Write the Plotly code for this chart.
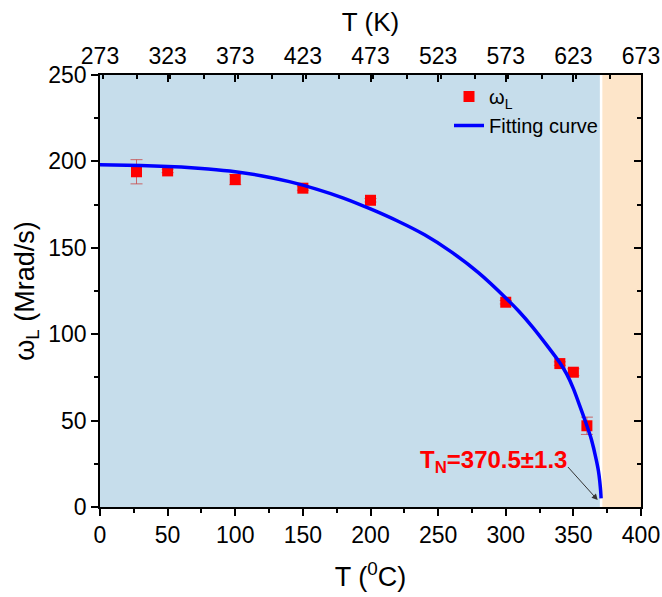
import plotly.graph_objects as go

# Measured data
T_data = [27, 50, 100, 150, 200, 300, 340, 350, 360]
w_data = [194, 194.5, 189.5, 184.5, 177.5, 118.5, 83, 78, 47]
w_err = [7, 1, 3, 1.2, 1, 1, 1, 2, 5]

# Fitting curve
T_fit = [0, 20, 40, 60, 80, 100, 120, 140, 160, 180, 200, 220, 240, 260, 280, 300, 310, 320, 330,
         340, 345, 350, 355, 360, 363, 365, 367, 368.5, 369.5, 370.2, 370.5]
w_fit = [198, 197.8, 197.4, 196.7, 195.6, 194, 191.6, 188.3, 184, 178.8, 172.5, 165.5, 157.5, 147.5,
         135.5, 121, 113, 104, 94, 83.5, 77, 68.5, 58, 47, 40, 34, 27, 21, 15, 9, 5]

TN = 370.5
x_ticks_C = [0, 50, 100, 150, 200, 250, 300, 350, 400]
x_ticks_K = [273, 323, 373, 423, 473, 523, 573, 623, 673]
y_ticks = [0, 50, 100, 150, 200, 250]

FONT = "Liberation Sans, Arial, sans-serif"

fig = go.Figure()

fig.add_trace(go.Scatter(
    x=T_data, y=w_data, mode="markers", name="ω<sub>L</sub>",
    marker=dict(symbol="square", size=11, color="#FF0000"),
    error_y=dict(type="data", array=w_err, color="rgba(200,70,70,0.8)", thickness=1, width=6),
))
fig.add_trace(go.Scatter(
    x=T_fit, y=w_fit, mode="lines", name="Fitting curve",
    line=dict(color="#0000FF", width=3.5, shape="spline", smoothing=0.5),
))
# invisible traces for top and right axes
fig.add_trace(go.Scatter(x=[273, 673], y=[None, None], xaxis="x2", showlegend=False, hoverinfo="skip"))
fig.add_trace(go.Scatter(x=[0, 400], y=[None, None], yaxis="y2", showlegend=False, hoverinfo="skip"))

fig.add_shape(type="rect", xref="x", yref="y", x0=0, x1=TN, y0=0, y1=250,
              fillcolor="#C6DDEB", line_width=0, layer="below")
fig.add_shape(type="rect", xref="x", yref="y", x0=TN, x1=400, y0=0, y1=250,
              fillcolor="#FDE5C9", line_width=0, layer="below")
fig.add_shape(type="line", xref="x", yref="y", x0=TN, x1=TN, y0=0, y1=250,
              line=dict(color="white", width=2.5), layer="below")

fig.add_annotation(x=368, y=4, ax=345, ay=24, xref="x", yref="y", axref="x", ayref="y",
                   showarrow=True, arrowhead=2, arrowsize=1.2, arrowwidth=1, arrowcolor="#333333", text="")
fig.add_annotation(x=(569 - 100) / 541, y=(507 - 461) / 432, xref="paper", yref="paper",
                   xanchor="right", yanchor="middle", showarrow=False,
                   text="<b>T<sub>N</sub>=370.5±1.3</b>",
                   font=dict(family=FONT, size=24, color="#FF0000"))

axis_common = dict(showgrid=False, zeroline=False, showline=True, linecolor="black", linewidth=1.5,
                   tickcolor="black", tickwidth=1.5, tickfont=dict(family=FONT, size=23, color="black"))

fig.update_layout(
    width=662, height=597,
    margin=dict(l=100, r=21, t=75, b=90),
    paper_bgcolor="white", plot_bgcolor="white",
    font=dict(family=FONT, color="black"),
    showlegend=True,
    legend=dict(x=(449 - 100) / 541, y=(507 - 77) / 432, xanchor="left", yanchor="top",
                bgcolor="rgba(0,0,0,0)", borderwidth=0,
                font=dict(family=FONT, size=20, color="black"), tracegroupgap=4),
    xaxis=dict(range=[0, 400], tickvals=x_ticks_C, ticks="outside", ticklen=7, automargin=False,
               minor=dict(dtick=25, ticks="outside", ticklen=4, tickcolor="black", tickwidth=1.5),
               title=dict(text="T (<sup>0</sup>C)", font=dict(family=FONT, size=27), standoff=20),
               **axis_common),
    xaxis2=dict(range=[273, 673], tickvals=x_ticks_K, overlaying="x", side="top", anchor="y",
                ticks="inside", ticklen=7, automargin=False,
                minor=dict(dtick=25, ticks="inside", ticklen=4, tickcolor="black", tickwidth=1.5),
                title=dict(text="T (K)", font=dict(family=FONT, size=26), standoff=4),
                **axis_common),
    yaxis=dict(range=[0, 250], tickvals=y_ticks, ticks="outside", ticklen=7, automargin=False,
               minor=dict(dtick=25, ticks="outside", ticklen=4, tickcolor="black", tickwidth=1.5),
               title=dict(text="ω<sub>L</sub> (Mrad/s)", font=dict(family=FONT, size=27), standoff=6),
               **axis_common),
    yaxis2=dict(range=[0, 250], tickvals=y_ticks, overlaying="y", side="right", anchor="x",
                ticks="inside", ticklen=7, showticklabels=False, automargin=False,
                minor=dict(dtick=25, ticks="inside", ticklen=4, tickcolor="black", tickwidth=1.5),
                showgrid=False, zeroline=False, showline=True, linecolor="black", linewidth=1.5,
                tickcolor="black", tickwidth=1.5),
)

fig.write_html("out.html")
